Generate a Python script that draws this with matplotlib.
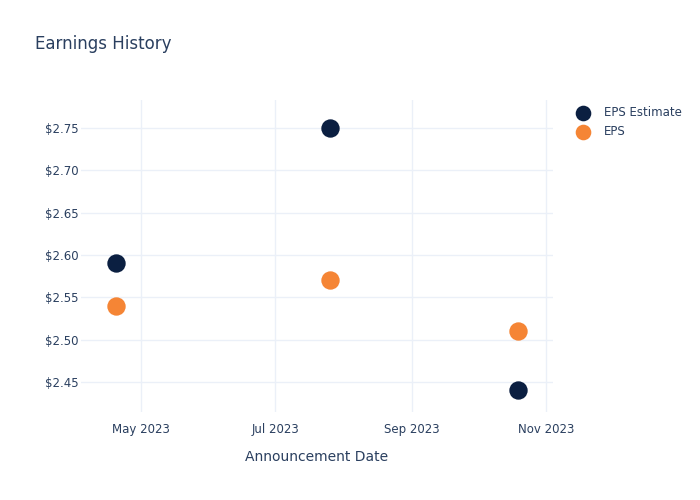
import numpy as np
import pandas as pd
import matplotlib
matplotlib.use("Agg")
import matplotlib.pyplot as plt
import matplotlib.dates as mdates
from matplotlib.ticker import FuncFormatter

dates = pd.to_datetime(["2023-04-20", "2023-07-26", "2023-10-19"])
eps_estimate = [2.59, 2.75, 2.44]
eps_actual = [2.54, 2.57, 2.51]
series_names = ["EPS Estimate", "EPS"]

TEXT = "#2a3f5f"
GRID = "#ebf0f8"
NAVY = "#0b1f41"
ORANGE = "#f58535"

plt.rcParams['font.family'] = ['DejaVu Sans']

fig = plt.figure(figsize=(7, 5), dpi=100)
ax = fig.add_axes([81 / 700, 1 - 412 / 500, (553 - 81) / 700, (412 - 100) / 500])

ax.scatter(dates, eps_estimate, s=175, color=NAVY, label=series_names[0], zorder=3, linewidths=0)
ax.scatter(dates, eps_actual, s=175, color=ORANGE, label=series_names[1], zorder=3, linewidths=0)

ax.set_xlim(pd.Timestamp("2023-04-04"), pd.Timestamp("2023-11-04"))
ax.set_ylim(2.4146, 2.783)
ax.set_yticks([2.45, 2.50, 2.55, 2.60, 2.65, 2.70, 2.75])
ax.yaxis.set_major_formatter(FuncFormatter(lambda v, p: f"${v:.2f}"))
ax.xaxis.set_major_locator(mdates.MonthLocator(bymonth=[5, 7, 9, 11]))
ax.xaxis.set_major_formatter(mdates.DateFormatter("%b %Y"))

ax.grid(True, color=GRID, linewidth=1)
ax.set_axisbelow(True)
for s in ax.spines.values():
    s.set_visible(False)
ax.tick_params(length=0, colors=TEXT, labelsize=8.5)
ax.tick_params(axis="y", pad=2)
ax.tick_params(axis="x", pad=8)

ax.set_xlabel("Announcement Date", color=TEXT, fontsize=10, labelpad=10)
fig.text(35 / 700, 1 - 44 / 500, "Earnings History", color=TEXT, fontsize=12, va="center")

leg = ax.legend(loc="upper left", bbox_to_anchor=(1.025, 1.0), frameon=False,
                fontsize=8.5, labelcolor=TEXT, handletextpad=0.8, borderaxespad=0,
                labelspacing=0.55, markerscale=0.85, borderpad=0.5)

fig.savefig("out.png", dpi=100)
